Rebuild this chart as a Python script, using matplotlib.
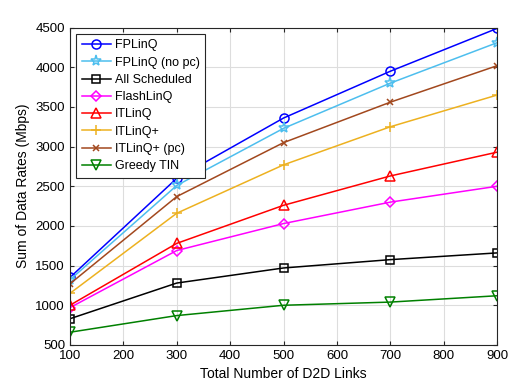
import matplotlib
matplotlib.use("Agg")
import matplotlib.pyplot as plt

links = [100, 300, 500, 700, 900]

fplinq = [1350, 2600, 3360, 3950, 4490]
fplinq_nopc = [1320, 2510, 3230, 3800, 4310]
all_sched = [830, 1280, 1470, 1575, 1660]
flashlinq = [970, 1690, 2030, 2300, 2500]
itlinq = [1000, 1780, 2260, 2630, 2930]
itlinq_plus = [1150, 2160, 2770, 3250, 3650]
itlinq_plus_pc = [1270, 2370, 3050, 3560, 4020]
greedy_tin = [660, 870, 1000, 1040, 1120]

series = [
    ("FPLinQ", fplinq, "#0000FF", "o"),
    ("FPLinQ (no pc)", fplinq_nopc, "#4DBEEE", "*"),
    ("All Scheduled", all_sched, "#000000", "s"),
    ("FlashLinQ", flashlinq, "#FF00FF", "D"),
    ("ITLinQ", itlinq, "#FF0000", "^"),
    ("ITLinQ+", itlinq_plus, "#EDB120", "+"),
    ("ITLinQ+ (pc)", itlinq_plus_pc, "#A2481E", "x"),
    ("Greedy TIN", greedy_tin, "#008000", "v"),
]

plt.rcParams["font.family"] = ["Liberation Sans", "DejaVu Sans"]

fig = plt.figure(figsize=(5.18, 3.88), dpi=100)
ax = fig.add_axes([0.135, 0.111, 0.825, 0.818])

sizes = {"o": 6.5, "*": 8, "s": 6, "D": 5.5, "^": 6.5, "+": 7, "x": 5, "v": 6.5}
for label, vals, color, marker in series:
    ax.plot(links, vals, color=color, marker=marker, markersize=sizes[marker],
            markerfacecolor="none", markeredgecolor=color,
            markeredgewidth=1.1, linewidth=1.1, label=label)

ax.set_xlim(100, 900)
ax.set_ylim(500, 4500)
ax.set_xticks(range(100, 1000, 100))
ax.set_yticks(range(500, 5000, 500))
ax.tick_params(direction="in", labelsize=9.5, top=True, right=True,
               color="#262626", length=3)
ax.grid(True, color="#DDDDDD", linewidth=0.8)
ax.set_axisbelow(True)
for sp in ax.spines.values():
    sp.set_color("#262626")
    sp.set_linewidth(0.8)

ax.set_xlabel("Total Number of D2D Links", fontsize=10)
ax.set_ylabel("Sum of Data Rates (Mbps)", fontsize=10)

leg = ax.legend(loc="upper left", fontsize=9, fancybox=False, framealpha=1,
                edgecolor="#262626", borderaxespad=0.5, handlelength=2.3,
                labelspacing=0.42, borderpad=0.45, handletextpad=0.35)
leg.get_frame().set_linewidth(0.8)

fig.savefig("out.png", dpi=100)
